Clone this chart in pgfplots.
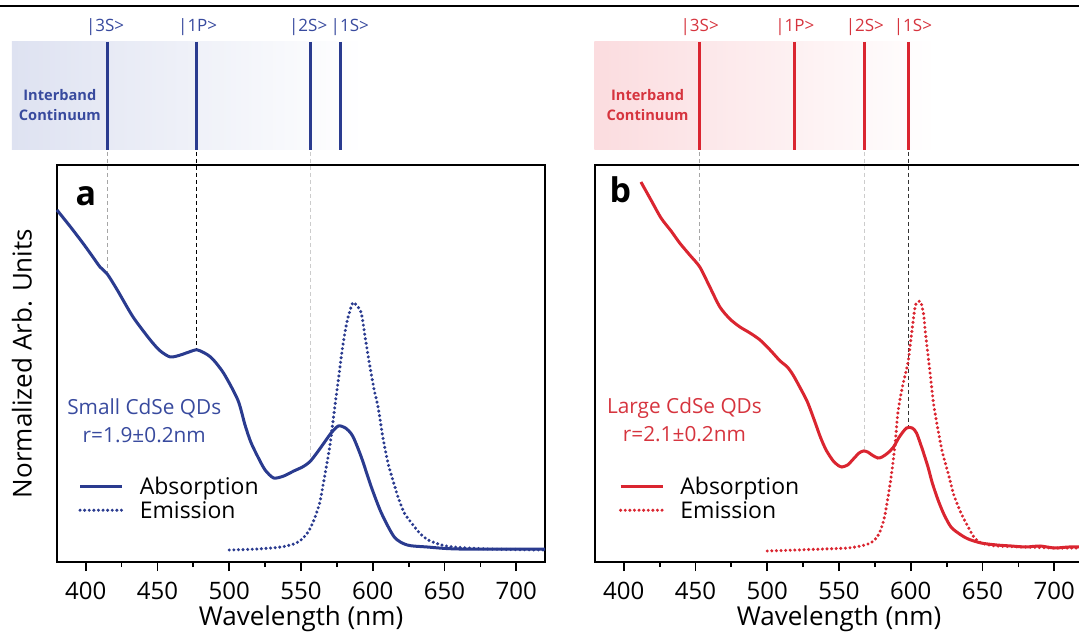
\documentclass[border=0pt]{standalone}
\usepackage{pgfplots}
\pgfplotsset{compat=1.18}
\usepackage{fontspec}
\setmainfont{Open Sans}
\definecolor{blueC}{RGB}{42,59,143}
\definecolor{redC}{RGB}{218,37,48}
\definecolor{blueT}{RGB}{56,74,158}
\definecolor{redT}{RGB}{214,52,62}
\definecolor{bandA}{RGB}{222,226,241}
\definecolor{bandB}{RGB}{251,220,223}
\pgfplotsset{
  panel/.style={
    scale only axis, width=244pt, height=198.5pt,
    xmin=380, xmax=720, ymin=165, ymax=562, y dir=reverse,
    clip=false,
    axis line style={line width=1.2pt},
    xtick={400,450,...,700}, minor xtick={425,475,...,675},
    ytick=\empty,
    xtick pos=lower,
    tick align=outside,
    major tick length=4.5pt, minor tick length=2.5pt,
    every tick/.style={line width=0.9pt, black},
    /pgf/number format/assume math mode=true,
    /pgf/number format/1000 sep={},
    xticklabel style={font=\fontsize{12}{14}\selectfont, yshift=-2pt},
    xlabel={Wavelength (nm)},
    xlabel style={font=\fontsize{13}{15}\selectfont, yshift=3.8pt},
    legend cell align=left,
    legend image code/.code={\draw[##1] (0pt,0pt) -- (21pt,0pt);},
    legend style={draw=none, fill=none, anchor=west, inner sep=0pt,
      font=\fontsize{11.5}{13}\selectfont, row sep=1.5pt,
      nodes={inner sep=1pt, text depth=0pt},
      /tikz/every odd column/.append style={column sep=7pt}},
  },
  absA/.style={line width=1.5pt, smooth, tension=0.45, #1},
  emA/.style={line width=1.7pt, smooth, tension=0.45, dash pattern=on 0pt off 2.3pt, line cap=round, #1},
}
\begin{document}
\begin{tikzpicture}
\useasboundingbox (0,0) rectangle (539.5pt,317.5pt);
% ---------------- panel a ----------------
\begin{axis}[panel, at={(28.5pt,36.5pt)}, anchor=south west,
  ylabel={Normalized Arb. Units},
  ylabel style={font=\fontsize{13}{15}\selectfont, yshift=4.5pt},
  legend style={at={(axis cs:394.6,498)}}]
% band
\shade[left color=bandA, right color=white] (axis cs:348.5,42) rectangle (axis cs:593.3,150);
\draw[blueC, line width=1.5pt] (axis cs:414.9,42) -- (axis cs:414.9,150);
\draw[blueC, line width=1.5pt] (axis cs:477,42) -- (axis cs:477,150);
\draw[blueC, line width=1.5pt] (axis cs:556.5,42) -- (axis cs:556.5,150);
\draw[blueC, line width=1.5pt] (axis cs:577.8,42) -- (axis cs:577.8,150);
\node[blueT, font=\fontsize{8.5}{10}\selectfont] at (axis cs:413.5,27) {|3S>};
\node[blueT, font=\fontsize{8.5}{10}\selectfont] at (axis cs:478,27) {|1P>};
\node[blueT, font=\fontsize{8.5}{10}\selectfont] at (axis cs:555,27) {|2S>};
\node[blueT, font=\fontsize{8.5}{10}\selectfont] at (axis cs:584,27) {|1S>};
\node[blueT, font=\bfseries\fontsize{7.3}{10}\selectfont, align=center] at (axis cs:382,105) {Interband\\Continuum};
% dashed guides
\draw[gray!70, line width=0.5pt, dash pattern=on 2pt off 1.5pt] (axis cs:414.9,152) -- (axis cs:414.9,272);
\draw[black, line width=0.5pt, dash pattern=on 2pt off 1.5pt] (axis cs:477,152) -- (axis cs:477,350);
\draw[gray!40, line width=0.5pt, dash pattern=on 2pt off 1.5pt] (axis cs:556.5,152) -- (axis cs:556.5,462);
% texts
\node[font=\bfseries\fontsize{17}{20}\selectfont] at (axis cs:400.2,196) {a};
\node[blueT, font=\fontsize{10.4}{14}\selectfont, align=center] at (axis cs:440.8,421) {Small CdSe QDs\\r=1.9±0.2nm};
\addplot[absA=blueC] coordinates {
(380,210) (390,228) (399,245) (405,257) (410,267) (415,274) (422,290) (433,317)
(445,340) (452,351) (459,357) (466,355) (472,352) (478,350) (487,357) (496,373)
(506,400) (511,425) (515,442) (520,457) (525,470) (531,478) (538,476) (545,471)
(551,467) (556,462) (561,453) (566,443) (571,433) (576,426) (581,428) (586,436)
(592,457) (599,487) (606,513) (615,537) (624,545) (638,547) (660,549) (720,549)};
\addlegendentry{Absorption}
\addplot[emA=blueC] coordinates {
(500,550) (520,549) (536,547) (545,544) (550,540) (555,532) (559,520) (563,503)
(566,480) (570,447) (573,413) (576,380) (579,347) (582,322) (586,303) (589,306)
(592,313) (595,340) (597.6,363) (601,390) (603.7,407) (607,437) (610.6,463) (614,480)
(617.6,497) (622,513) (627,523) (632.6,533) (638.6,540) (648,545) (657,547) (680,549) (720,550)};
\addlegendentry{Emission}
\end{axis}
% ---------------- panel b ----------------
\begin{axis}[panel, at={(297.5pt,36.5pt)}, anchor=south west,
  legend style={at={(axis cs:396.4,498)}}]
\shade[left color=bandB, right color=white] (axis cs:379.5,42) rectangle (axis cs:617.3,150);
\draw[redC, line width=1.5pt] (axis cs:453,42) -- (axis cs:453,150);
\draw[redC, line width=1.5pt] (axis cs:518.7,42) -- (axis cs:518.7,150);
\draw[redC, line width=1.5pt] (axis cs:567.6,42) -- (axis cs:567.6,150);
\draw[redC, line width=1.5pt] (axis cs:598.4,42) -- (axis cs:598.4,150);
\node[redT, font=\fontsize{8.5}{10}\selectfont] at (axis cs:452.9,27) {|3S>};
\node[redT, font=\fontsize{8.5}{10}\selectfont] at (axis cs:519.2,27) {|1P>};
\node[redT, font=\fontsize{8.5}{10}\selectfont] at (axis cs:568,27) {|2S>};
\node[redT, font=\fontsize{8.5}{10}\selectfont] at (axis cs:601.5,27) {|1S>};
\node[redT, font=\bfseries\fontsize{7.3}{10}\selectfont, align=center] at (axis cs:416.6,105) {Interband\\Continuum};
\draw[gray!70, line width=0.5pt, dash pattern=on 2pt off 1.5pt] (axis cs:453,152) -- (axis cs:453,267);
\draw[gray!40, line width=0.5pt, dash pattern=on 2pt off 1.5pt] (axis cs:567.6,152) -- (axis cs:567.6,451);
\draw[black!80, line width=0.5pt, dash pattern=on 2pt off 1.5pt] (axis cs:598.4,152) -- (axis cs:598.4,428);
\node[font=\bfseries\fontsize{17}{20}\selectfont] at (axis cs:397.7,190) {b};
\node[redT, font=\fontsize{10.4}{14}\selectfont, align=center] at (axis cs:442.3,420) {Large CdSe QDs\\r=2.1±0.2nm};
\addplot[absA=redC] coordinates {
(412,182) (419,200) (426,218) (433,231) (439,243) (446,255) (453,267) (460,287)
(467,307) (474,319) (481,327) (488,333) (495,340) (502,350) (509,361) (514,367)
(518,375) (523,388) (528,402) (533,421) (537,437) (541,450) (546,461) (550,466)
(552,467) (556,465) (560,459) (564,453) (567,451) (570,452) (573,455) (577,458)
(580,457) (584,453) (588,447) (592,437) (597,428) (601,428) (604,433) (608,449)
(612,467) (615,483) (619,500) (623,514) (628,527) (634,534) (640,539) (649,543)
(660,545) (670,546) (680,547) (690,546) (700,548) (710,547) (720,547)};
\addlegendentry{Absorption}
\addplot[emA=redC] coordinates {
(500,551) (520,550) (540,549) (556,548) (565,546) (572,543) (576,538) (579,530)
(582,515) (586,480) (589,445) (591,413) (594,388) (598,363) (600,340) (603,307)
(605,302) (607,302) (609,315) (610,330) (612,355) (614,380) (616,405) (619,430)
(622,452) (626,473) (630,495) (635,513) (640,527) (644,537) (649,543) (660,546)
(680,547) (700,548) (720,548)};
\addlegendentry{Emission}
\end{axis}
% top rule
\draw[line width=1.3pt] (0,314.5pt) -- (539.5pt,314.5pt);
\end{tikzpicture}
\end{document}
